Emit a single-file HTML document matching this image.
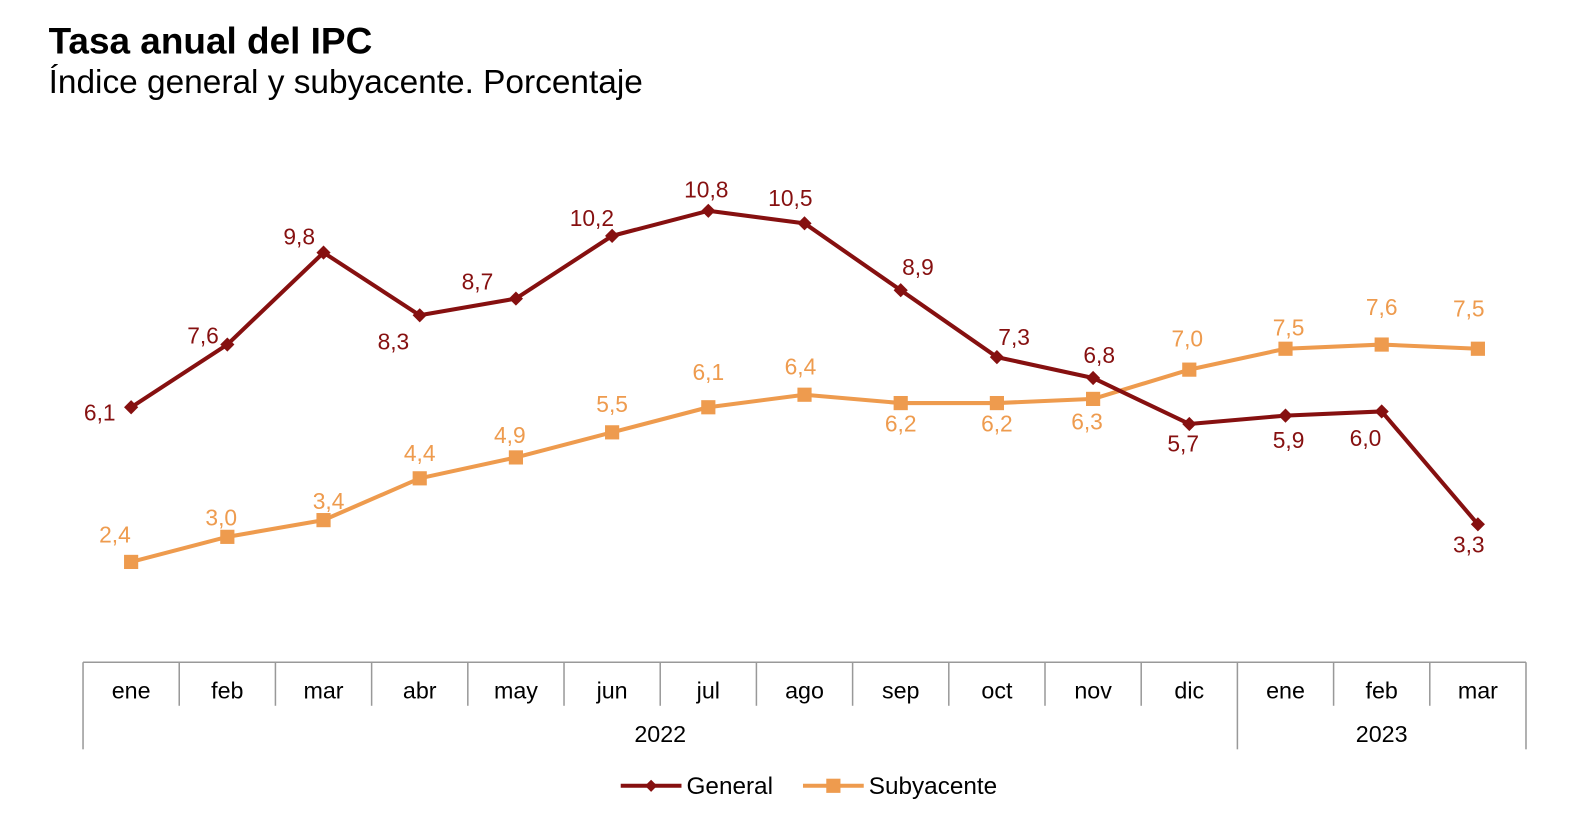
<!DOCTYPE html>
<html><head><meta charset="utf-8"><style>
body{margin:0;background:#fff;font-family:"Liberation Sans",Arial,sans-serif;}
svg text{font-family:"Liberation Sans",Arial,sans-serif;}
</style></head><body>
<svg width="1588" height="828" xmlns="http://www.w3.org/2000/svg">
<g id="c" transform="scale(1.0126)">
<text x="48" y="53" font-size="36.5" font-weight="bold" fill="#000">Tasa anual del IPC</text>
<text x="48" y="92" font-size="33" fill="#000">Índice general y subyacente. Porcentaje</text>
</g>
</svg>
<script>
const months=["ene","feb","mar","abr","may","jun","jul","ago","sep","oct","nov","dic","ene","feb","mar"];
const years=["2022","2023"];
const yearCounts=[12,3];
const general=[6.1,7.6,9.8,8.3,8.7,10.2,10.8,10.5,8.9,7.3,6.8,5.7,5.9,6.0,3.3];
const subyacente=[2.4,3.0,3.4,4.4,4.9,5.5,6.1,6.4,6.2,6.2,6.3,7.0,7.5,7.6,7.5];
// label offsets (dx,dy) relative to marker
const genOff=[[-31,10],[-24,-4],[-24,-11],[-26,31],[-38,-12],[-20,-13],[-2,-16],[-14,-20],[17,-18],[17,-15],[6,-18],[-6,24],[3,29],[-16,31],[-9,25]];
const subOff=[[-16,-22],[-6,-14],[5,-14],[0,-20],[-6,-17],[0,-23],[0,-30],[-4,-23],[0,25],[0,25],[-6,27],[-2,-26],[3,-16],[0,-32],[-9,-35]];
const svg=document.getElementById('c');const NS="http://www.w3.org/2000/svg";
const x0=82,step=95,axisY=654,k=41.28;
const X=i=>x0+step*(i+0.5);const Y=v=>axisY-k*v;
function el(t,a){const e=document.createElementNS(NS,t);for(const n in a)e.setAttribute(n,a[n]);svg.appendChild(e);return e;}
function txt(x,y,s,size,fill){const e=el('text',{x:x,y:y,'font-size':size,fill:fill,'text-anchor':'middle'});e.textContent=s;return e;}
let ax=el('line',{x1:x0,y1:axisY,x2:x0+step*months.length,y2:axisY,stroke:'#999','stroke-width':1.5});


for(let i=0;i<=months.length;i++){
  let isYear=(i===0||i===months.length||i===yearCounts[0]);
  let t=el('line',{x1:x0+step*i,y1:axisY,x2:x0+step*i,y2:isYear?740:697,stroke:'#999','stroke-width':1.5});
  
  
}
months.forEach((m,i)=>{let t=txt(X(i),690,m,23,'#000');
  
  });
let start=0;years.forEach((y,j)=>{let cx=x0+step*(start+yearCounts[j]/2);let t=txt(cx,733,y,23,'#000');
  
  start+=yearCounts[j];});
function series(vals,off,color,shape,name){
  let p=el('polyline',{points:vals.map((v,i)=>X(i)+','+Y(v)).join(' '),fill:'none',stroke:color,'stroke-width':4,'stroke-linejoin':'round'});
  
  
  vals.forEach((v,i)=>{let m;
    if(shape==='d'){m=el('polygon',{points:`${X(i)},${Y(v)-7} ${X(i)+7},${Y(v)} ${X(i)},${Y(v)+7} ${X(i)-7},${Y(v)}`,fill:color});}
    else{m=el('rect',{x:X(i)-7,y:Y(v)-7,width:14,height:14,fill:color});}
    
    
    let t=txt(X(i)+off[i][0],Y(v)+off[i][1]+3,v.toFixed(1).replace('.',','),22.5,color);
    
    
  });
}
series(subyacente,subOff,'#EE9B4E','s','subyacente');
series(general,genOff,'#861010','d','general');
let l1=el('line',{x1:613,y1:776,x2:673,y2:776,stroke:'#861010','stroke-width':4});


el('polygon',{points:'643,770 649,776 643,782 637,776',fill:'#861010'});
let lt1=el('text',{x:678,y:784,'font-size':24,fill:'#000'});lt1.textContent='General';


let l2=el('line',{x1:793,y1:776,x2:853,y2:776,stroke:'#EE9B4E','stroke-width':4});


el('rect',{x:816,y:769,width:14,height:14,fill:'#EE9B4E'});
let lt2=el('text',{x:858,y:784,'font-size':24,fill:'#000'});lt2.textContent='Subyacente';


</script>
</body></html>
